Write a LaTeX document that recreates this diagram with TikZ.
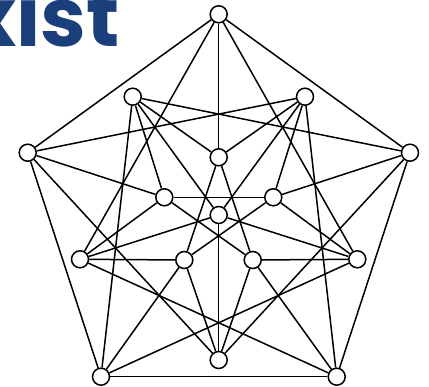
\documentclass[tikz,border=0pt]{standalone}
\usepackage{fontspec}
\newfontfamily\logofont{Poppins}
\definecolor{logoblue}{RGB}{27,63,122}
\begin{document}
\begin{tikzpicture}[x=1pt,y=-1pt,
  vtx/.style={circle,draw,fill=white,line width=1.5pt,minimum size=17pt,inner sep=0pt},
  edge/.style={line width=1.5pt}]
\useasboundingbox (0,0) rectangle (429,387);
\begin{scope}
\clip (0,0) rectangle (429,387);
\node[anchor=base east, text=logoblue, inner sep=0pt] (logo) at (120,47) {\logofont\bfseries\fontsize{82}{82}\selectfont xist};
\end{scope}
\node[vtx] (T) at (218.7,14.3) {};
\node[vtx] (UL) at (132.7,96.7) {};
\node[vtx] (UR) at (305,96.7) {};
\node[vtx] (L) at (27.7,152.7) {};
\node[vtx] (R) at (410,152.7) {};
\node[vtx] (C1) at (218.7,157.3) {};
\node[vtx] (ML) at (164.3,197.3) {};
\node[vtx] (MR) at (273.3,197.3) {};
\node[vtx] (C2) at (218.7,215) {};
\node[vtx] (LL) at (80,259.3) {};
\node[vtx] (LR) at (357.3,259.3) {};
\node[vtx] (BL2) at (184.3,260) {};
\node[vtx] (BR2) at (252.7,260) {};
\node[vtx] (B) at (218.7,360) {};
\node[vtx] (BL) at (101,376.7) {};
\node[vtx] (BR) at (336.7,376.7) {};
\foreach \a/\b in {C2/UL,C2/UR,C2/LL,C2/LR,C2/B,
  T/L,T/R,L/BL,R/BR,BL/BR,
  T/C1,L/ML,R/MR,BL/BL2,BR/BR2,
  C1/BL2,C1/BR2,ML/MR,ML/BR2,MR/BL2,
  UL/R,UL/BL,UL/C1,UL/ML,
  UR/L,UR/BR,UR/C1,UR/MR,
  LL/T,LL/ML,LL/BL2,LL/BR,
  LR/T,LR/MR,LR/BR2,LR/BL,
  B/L,B/R,B/BL2,B/BR2}
  \draw[edge] (\a) -- (\b);
\end{tikzpicture}
\end{document}
